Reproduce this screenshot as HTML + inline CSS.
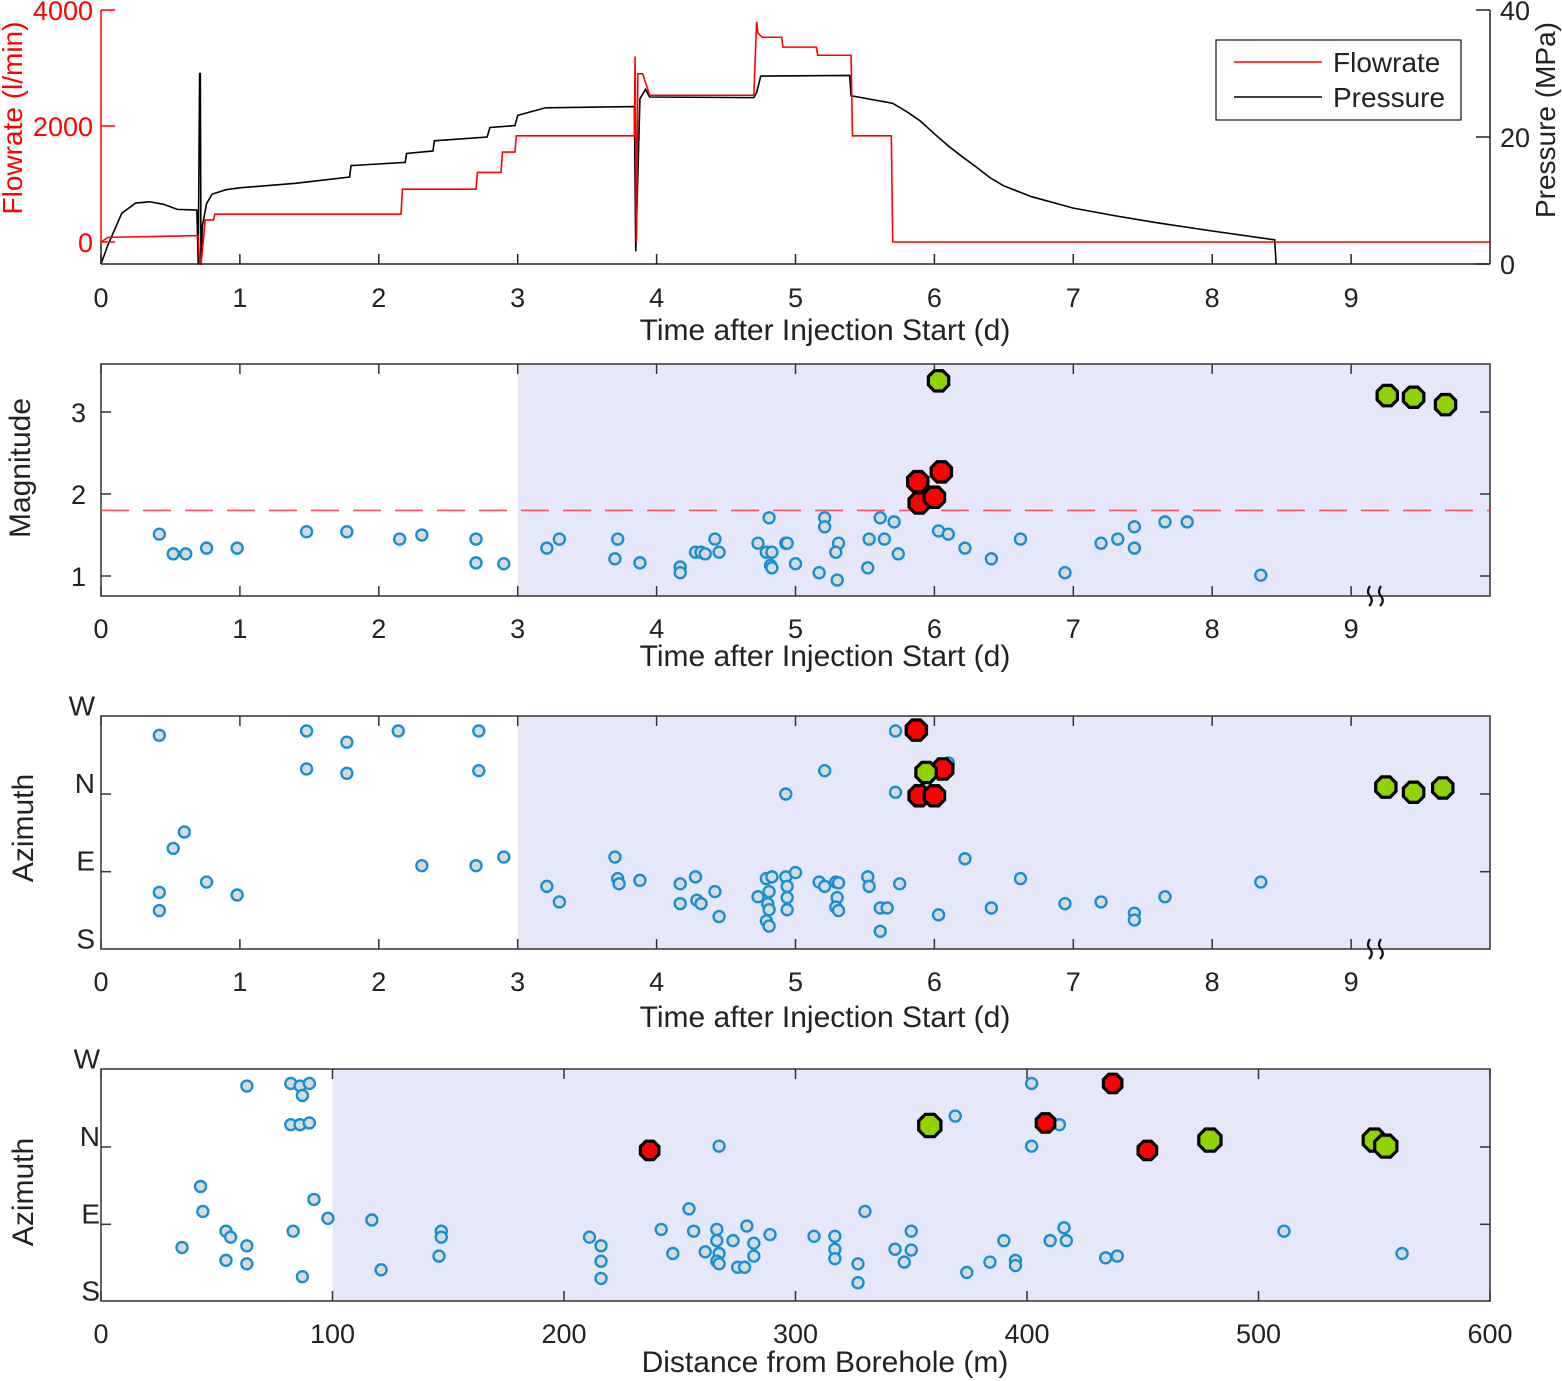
<!DOCTYPE html>
<html><head><meta charset="utf-8"><style>
html,body{margin:0;padding:0;background:#fff;}
svg{display:block;font-family:"Liberation Sans",sans-serif;}
</style></head><body>
<svg id="fig" width="1562" height="1381" viewBox="0 0 1562 1381" xmlns="http://www.w3.org/2000/svg">
<g id="p1"></g>
<g id="p2"></g>
<g id="p3"></g>
<g id="p4"></g>
</svg>
<script>
// ---- Panel 1 data ----
var flowT = [0,0.05,0.5,0.7,0.71,0.72,0.74,0.75,0.81,0.82,2.16,2.17,2.7,2.71,2.88,2.89,2.98,2.99,3.84,3.845,3.855,3.865,3.9,3.95,4.7,4.72,4.73,4.76,4.9,4.91,5.15,5.16,5.4,5.41,5.69,5.70,10];
var flowV = [0,80,100,110,-380,-380,110,380,380,480,480,910,910,1200,1200,1550,1550,1830,1830,3200,0,2900,2900,2530,2530,3800,3600,3530,3530,3360,3360,3220,3220,1830,1830,0,0];
var presT = [0,0.05,0.15,0.25,0.35,0.45,0.55,0.69,0.70,0.71,0.715,0.72,0.73,0.76,0.8,0.9,1.0,1.4,1.79,1.8,2.19,2.2,2.39,2.4,2.78,2.8,2.98,3.0,3.2,3.84,3.85,3.88,3.92,3.95,4.7,4.72,4.75,5.39,5.4,5.7,5.8,5.9,6.0,6.1,6.2,6.3,6.4,6.5,6.7,7.0,7.3,7.6,8.0,8.45,8.46];
var presV = [0,3,8,9.6,9.8,9.4,8.6,8.5,0,30,30,0,6,9.5,11,11.7,12.0,12.7,13.7,15.5,16.0,17.4,17.8,19.4,20.0,21.5,21.8,23.4,24.6,24.8,2,26,27.5,26.3,26.2,27,29.6,29.7,26.5,25.3,24,22.5,20.5,18.6,16.9,15.3,13.6,12.3,10.6,8.8,7.6,6.5,5.2,3.8,0];
var p1XTicks = ["0","1","2","3","4","5","6","7","8","9"];
var p1LTicks = ["0","2000","4000"];
var p1RTicks = ["0","20","40"];
// ---- Panel 2 data ----
var magT = [0.42,0.52,0.61,0.76,0.98,1.48,1.77,2.15,2.31,2.70,2.70,2.90,3.21,3.30,3.72,3.70,3.88,4.17,4.17,4.28,4.32,4.35,4.42,4.45,4.73,4.81,4.79,4.82,4.83,4.83,4.93,4.94,5.00,5.17,5.21,5.21,5.31,5.29,5.30,5.52,5.53,5.61,5.64,5.71,5.74,6.03,6.10,6.22,6.41,6.62,6.94,7.20,7.32,7.44,7.44,7.66,7.82,8.35];
var magV = [1.51,1.27,1.27,1.34,1.34,1.54,1.54,1.45,1.50,1.45,1.16,1.15,1.34,1.45,1.45,1.21,1.16,1.11,1.04,1.29,1.29,1.27,1.45,1.29,1.40,1.71,1.29,1.13,1.10,1.29,1.40,1.40,1.15,1.04,1.71,1.60,1.40,1.29,0.95,1.10,1.45,1.71,1.45,1.66,1.27,1.55,1.51,1.34,1.21,1.45,1.04,1.40,1.45,1.34,1.60,1.66,1.66,1.01];
var magRedT = [5.88,6.05,5.89,6.00];
var magRedV = [2.15,2.27,1.89,1.96];
var magGreenT = [6.03,9.26,9.45,9.68];
var magGreenV = [3.38,3.20,3.18,3.09];
var magThreshold = 1.8;
var magTicks = ["1","2","3"];
// ---- Panel 3 data (azimuth deg: S=-180,E=-90,N=0,W=90) ----
var azT = [0.42,1.48,1.77,2.14,2.72,1.48,1.77,2.72,0.60,0.52,0.76,0.98,0.42,0.42,2.31,2.70,2.90,3.21,3.30,3.70,3.72,3.73,3.88,4.17,4.17,4.28,4.29,4.32,4.42,4.45,4.73,4.79,4.83,4.81,4.80,4.81,4.79,4.81,4.93,4.94,4.94,4.94,5.00,5.17,5.21,5.29,5.31,5.30,5.29,5.31,5.52,5.53,5.61,5.66,5.61,5.75,5.21,4.93,5.72,5.72,6.03,6.10,6.22,6.41,6.62,6.94,7.20,7.44,7.44,7.66,8.35];
var azV = [68,73,60,73,73,29,24,27,-44,-63,-102,-117,-114,-135,-83,-83,-73,-107,-125,-73,-98,-104,-100,-104,-127,-96,-123,-127,-113,-142,-119,-98,-96,-113,-127,-134,-147,-153,-96,-107,-120,-134,-91,-102,-107,-102,-103,-120,-131,-135,-96,-107,-132,-132,-159,-104,27,0,73,2,-140,36,-75,-132,-98,-127,-125,-138,-146,-119,-102];
var azRedT = [5.87,6.06,5.89,6.00];
var azRedV = [74,29,-2,-2];
var azGreenT = [5.94,9.25,9.45,9.66];
var azGreenV = [25,8,2,7];
var azTickLabels = ["S","E","N","W"];
// ---- Panel 4 data ----
var distD = [63,82,86,90,87,82,86,90,43,44,54,56,35,54,63,63,83,87,92,98,117,121,147,147,146,211,216,216,216,242,247,254,256,261,266,266,267,266,267,275,278,273,279,282,282,289,267,308,317,317,317,327,327,330,343,347,350,350,369,374,384,390,395,395,402,402,410,414,416,417,434,439,511,562];
var distAz = [71,74,71,74,60,26,26,28,-46,-75,-98,-105,-117,-132,-115,-136,-98,-151,-61,-83,-85,-143,-98,-105,-127,-105,-115,-133,-153,-96,-124,-72,-98,-122,-96,-109,-124,-133,-136,-140,-140,-109,-92,-112,-127,-102,1,-104,-104,-119,-130,-136,-158,-75,-119,-134,-98,-120,36,-146,-134,-109,-132,-138,74,1,-109,26,-94,-109,-129,-127,-98,-124];
var distRedD = [237,408,437,452];
var distRedAz = [-4,28,74,-4];
var distGreenD = [358,479,550,555];
var distGreenAz = [25,8,8,1];
var distTicks = ["0","100","200","300","400","500","600"];

var NS="http://www.w3.org/2000/svg";
var TF=27, TT=30;
function mk(parent,tag,attrs){var e=document.createElementNS(NS,tag);for(var k in attrs)e.setAttribute(k,attrs[k]);parent.appendChild(e);return e;}
function txt(parent,x,y,s,size,anchor,fill,rot){var e=mk(parent,'text',{x:x,y:y,'font-size':size,'text-anchor':anchor,fill:fill||'#222'});if(rot)e.setAttribute('transform','rotate(-90 '+x+' '+y+')');e.textContent=s;return e;}
var X0=101,X1=1490;
function sx(t){return X0+(X1-X0)*t/10;}
function dx(d){return X0+(X1-X0)*d/600;}

// ---------- Panel 1 ----------
(function(){
var g=document.getElementById('p1');
var top=10,bot=264;
function fy(f){return 242-f*0.058;}
function py(p){return bot-(bot-top)*p/40;}
var pts=presT.map(function(t,i){return sx(t)+','+py(presV[i]);}).join(' ');
var pl=mk(g,'polyline',{points:pts,fill:'none',stroke:'#000','stroke-width':1.6});


var fpts=flowT.map(function(t,i){return sx(t)+','+fy(flowV[i]);}).join(' ');
var fl=mk(g,'polyline',{points:fpts,fill:'none',stroke:'#f00','stroke-width':1.6});


mk(g,'line',{x1:X0,y1:bot,x2:X1,y2:bot,stroke:'#222','stroke-width':1.5});
mk(g,'line',{x1:X1,y1:top,x2:X1,y2:bot,stroke:'#222','stroke-width':1.5});
mk(g,'line',{x1:X0,y1:top,x2:X0,y2:fy(0),stroke:'#f00','stroke-width':1.5});
mk(g,'line',{x1:X0,y1:fy(0),x2:X0,y2:bot,stroke:'#222','stroke-width':1.5});
p1XTicks.forEach(function(s,i){var x=sx(+s);mk(g,'line',{x1:x,y1:bot,x2:x,y2:bot-10,stroke:'#222','stroke-width':1.5});
 var t=txt(g,x,307,s,TF,'middle','#222');});
p1LTicks.forEach(function(s){var y=fy(+s);mk(g,'line',{x1:X0,y1:y,x2:X0+14,y2:y,stroke:'#f00','stroke-width':1.5});
 var t=txt(g,93,y+10,s,TF,'end','#f00');});
p1RTicks.forEach(function(s){var y=py(+s);mk(g,'line',{x1:X1,y1:y,x2:X1-14,y2:y,stroke:'#222','stroke-width':1.5});
 var t=txt(g,1500,y+10,s,TF,'start','#222');});
var a=txt(g,22,118,'Flowrate (l/min)',TT-2,'middle','#f00',true);
var b=txt(g,1555,120,'Pressure (MPa)',TT-2,'middle','#222',true);
var c=txt(g,825,340,'Time after Injection Start (d)',TT,'middle','#222');
var lg=mk(g,'g',{});
mk(lg,'rect',{x:1216,y:40,width:245,height:80,fill:'#fff',stroke:'#222','stroke-width':1.3});
mk(lg,'line',{x1:1234,y1:62,x2:1322,y2:62,stroke:'#f00','stroke-width':1.6});
mk(lg,'line',{x1:1234,y1:97,x2:1322,y2:97,stroke:'#000','stroke-width':1.6});
txt(lg,1333,72,'Flowrate',TF+1,'start','#222');
txt(lg,1333,107,'Pressure',TF+1,'start','#222');
})();

function frame(g,top,bot,shadeX,xTickFn,xTicks,xTitle,titleY,breakMark){
 mk(g,'rect',{x:shadeX,y:top,width:X1-shadeX,height:bot-top,fill:'#e6e8fa'});
 mk(g,'rect',{x:X0,y:top,width:X1-X0,height:bot-top,fill:'none',stroke:'#333','stroke-width':1.5});
 xTicks.forEach(function(s){var x=xTickFn(+s);
  mk(g,'line',{x1:x,y1:bot,x2:x,y2:bot-10,stroke:'#333','stroke-width':1.5});
  mk(g,'line',{x1:x,y1:top,x2:x,y2:top+10,stroke:'#333','stroke-width':1.5});
  var t=txt(g,x,bot+42,s,TF,'middle','#222');});
 var t=txt(g,825,titleY,xTitle,TT,'middle','#222');
 if(breakMark){mk(g,'path',{d:'M1370,'+(bot-10)+' q-4,6 0,10 q4,5 -1,10 M1381,'+(bot-10)+' q-4,6 0,10 q4,5 -1,10',fill:'none',stroke:'#111','stroke-width':2.2});}
}
function dot(g,x,y,name){var c=mk(g,'circle',{cx:x,cy:y,r:5.5,fill:'#d5dbe2',stroke:'#1a8fd0','stroke-width':2.4});}
function oct(g,x,y,r,fill,name){var p=[];for(var i=0;i<8;i++){var a=Math.PI/8+i*Math.PI/4;p.push((x+r*Math.cos(a)).toFixed(1)+','+(y+r*Math.sin(a)).toFixed(1));}
 var e=mk(g,'polygon',{points:p.join(' '),fill:fill,stroke:'#000','stroke-width':3.2});}

// ---------- Panel 2 ----------
(function(){
var g=document.getElementById('p2');var top=364,bot=596;
function my(m){return 576-(m-1)*82;}
frame(g,top,bot,sx(3),sx,p1XTicks,'Time after Injection Start (d)',666,true);
magTicks.forEach(function(s){var y=my(+s);
 mk(g,'line',{x1:X0,y1:y,x2:X0+10,y2:y,stroke:'#333','stroke-width':1.5});
 mk(g,'line',{x1:X1,y1:y,x2:X1-10,y2:y,stroke:'#333','stroke-width':1.5});
 var t=txt(g,86,y+10,s,TF,'end','#222');});
var th=mk(g,'line',{x1:X0,y1:my(magThreshold),x2:X1,y2:my(magThreshold),stroke:'#f05060','stroke-width':1.6,'stroke-dasharray':'28,14'});


var a=txt(g,30,468,'Magnitude',TT,'middle','#222',true);
magT.forEach(function(t,i){dot(g,sx(t),my(magV[i]),'event-dot');});
magRedT.forEach(function(t,i){oct(g,sx(t),my(magRedV[i]),11,'#f00','large-event-red');});
magGreenT.forEach(function(t,i){oct(g,sx(t),my(magGreenV[i]),11,'#8fd400','large-event-green');});
})();

function azAxis(g,top,bot,ay,lx){
 azTickLabels.forEach(function(s,i){var y=ay(-180+90*i);
  if(i>0&&i<3){mk(g,'line',{x1:X0,y1:y,x2:X0+10,y2:y,stroke:'#333','stroke-width':1.5});
  mk(g,'line',{x1:X1,y1:y,x2:X1-10,y2:y,stroke:'#333','stroke-width':1.5});}
  var t=txt(g,lx,y-1,s,TF+1,'end','#222');});
}
// ---------- Panel 3 ----------
(function(){
var g=document.getElementById('p3');var top=716,bot=949;
function ay(d){return 794-(d)/90*77.7;}
frame(g,top,bot,sx(3),sx,p1XTicks,'Time after Injection Start (d)',1027,true);
azAxis(g,top,bot,ay,95);
var a=txt(g,33,828,'Azimuth',TT,'middle','#222',true);
azT.forEach(function(t,i){dot(g,sx(t),ay(azV[i]),'event-dot');});
azRedT.forEach(function(t,i){oct(g,sx(t),ay(azRedV[i]),11,'#f00','large-event-red');});
azGreenT.forEach(function(t,i){oct(g,sx(t),ay(azGreenV[i]),11,'#8fd400','large-event-green');});
})();

// ---------- Panel 4 ----------
(function(){
var g=document.getElementById('p4');var top=1069,bot=1301;
function ay(d){return 1147-(d)/90*77.3;}
frame(g,top,bot,dx(100),dx,distTicks,'Distance from Borehole (m)',1372,false);
azAxis(g,top,bot,ay,100);
var a=txt(g,33,1192,'Azimuth',TT,'middle','#222',true);
distD.forEach(function(d,i){dot(g,dx(d),ay(distAz[i]),'event-dot');});
distRedD.forEach(function(d,i){oct(g,dx(d),ay(distRedAz[i]),10,'#f00','large-event-red');});
distGreenD.forEach(function(d,i){oct(g,dx(d),ay(distGreenAz[i]),12,'#8fd400','large-event-green');});
})();
</script>
</body></html>
